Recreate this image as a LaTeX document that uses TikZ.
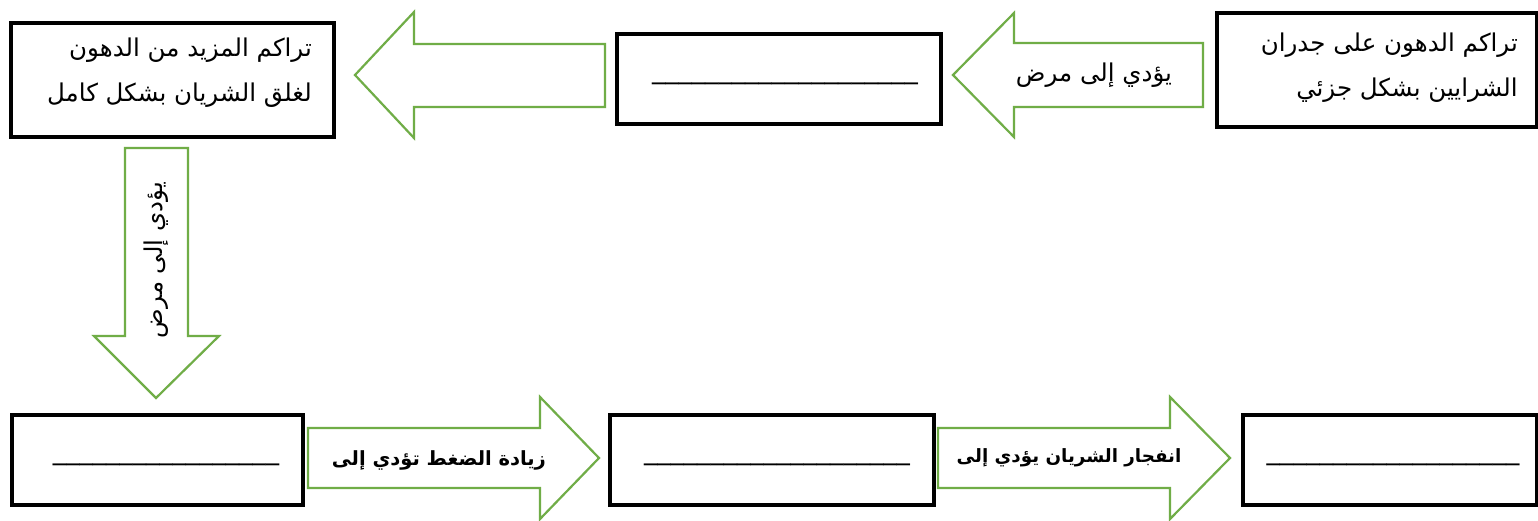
\documentclass[tikz,border=0pt]{standalone}
\usepackage{fontspec}
\setmainfont{DejaVu Sans}
\newfontfamily\arabicfont[Script=Arabic]{DejaVu Sans}
\TeXXeTstate=1
\usetikzlibrary{shadows}
\definecolor{agreen}{RGB}{112,173,71}
\tikzset{
  blackbox/.style={draw=black, line width=4pt, fill=white,
    drop shadow={opacity=0.25, shadow xshift=1.5pt, shadow yshift=-1.5pt}},
  blockarrow/.style={draw=agreen, line width=2.2pt, fill=white, line join=miter},
  artext/.style={font=\arabicfont\fontsize{24.5}{45}\selectfont, inner sep=0pt, align=right},
  boldtext/.style={font=\arabicfont\bfseries\fontsize{19.5}{22}\selectfont, inner sep=0pt},
  blank/.style={font=\fontsize{26.6}{28}\selectfont, inner sep=0pt}
}
\begin{document}
\begin{tikzpicture}[x=1pt,y=-1pt]
\useasboundingbox (0,0) rectangle (1538,520);
\fill[white] (0,0) rectangle (1538,520);

% boxes
\draw[blackbox] (11,23) rectangle (334,137);
\node (tl) at (172.5,80) {};
\draw[blackbox] (617,34) rectangle (941,124);
\node (tm) at (779,79) {};
\draw[blackbox] (1217,13) rectangle (1537,127);
\node (tr) at (1377,70) {};
\draw[blackbox] (12,415) rectangle (303,505);
\node (bl) at (157.5,460) {};
\draw[blackbox] (610,415) rectangle (934,505);
\node (bm) at (772,460) {};
\draw[blackbox] (1243,415) rectangle (1537,505);
\node (br) at (1390,460) {};

% texts in boxes
\node[artext, anchor=east] (tltext) at (312,73) {\beginR تراكم المزيد من الدهون\endR\\\beginR لغلق الشريان بشكل كامل\endR};
\node[artext, anchor=east] (trtext) at (1518,68) {\beginR تراكم الدهون على جدران\endR\\\beginR الشرايين بشكل جزئي\endR};
\node[blank] (tmline) at (785,82) {\_\_\_\_\_\_\_\_\_\_\_\_\_\_\_\_\_\_\_\_};
\node[blank] (blline) at (166,463) {\_\_\_\_\_\_\_\_\_\_\_\_\_\_\_\_\_};
\node[blank] (bmline) at (777,463) {\_\_\_\_\_\_\_\_\_\_\_\_\_\_\_\_\_\_\_\_};
\node[blank] (brline) at (1393,463) {\_\_\_\_\_\_\_\_\_\_\_\_\_\_\_\_\_\_\_};

% block arrows
\draw[blockarrow] (605,44) -- (414,44) -- (414,12) -- (355,75) -- (414,138) -- (414,107) -- (605,107) -- cycle;
\draw[blockarrow] (1203,43) -- (1014,43) -- (1014,13) -- (953,75) -- (1014,137) -- (1014,107) -- (1203,107) -- cycle;
\draw[blockarrow] (125,148) -- (188,148) -- (188,336) -- (219,336) -- (156,398) -- (94,336) -- (125,336) -- cycle;
\draw[blockarrow] (308,428) -- (540,428) -- (540,397) -- (599,458) -- (540,519) -- (540,488) -- (308,488) -- cycle;
\draw[blockarrow] (938,428) -- (1170,428) -- (1170,397) -- (1230,458) -- (1170,519) -- (1170,488) -- (938,488) -- cycle;

% arrow labels
\node[artext] (a1) at (1094,75) {\beginR يؤدي إلى مرض\endR};
\node[artext, rotate=90] (a2) at (156,260) {\beginR يؤدي إلى مرض\endR};
\node[boldtext] (a3) at (439,460) {\beginR زيادة الضغط تؤدي إلى\endR};
\node[boldtext, font=\arabicfont\bfseries\fontsize{18.3}{22}\selectfont] (a4) at (1069,458) {\beginR انفجار الشريان يؤدي إلى\endR};
\end{tikzpicture}
\end{document}
